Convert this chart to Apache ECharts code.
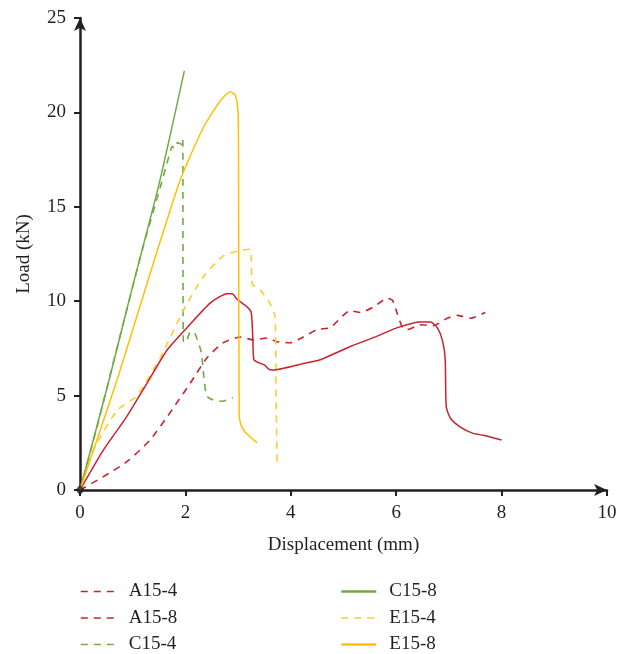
<!DOCTYPE html>
<html>
<head>
<meta charset="utf-8">
<script src="https://cdn.jsdelivr.net/npm/echarts@6/dist/echarts.min.js"></script>
<style>
  html, body { margin: 0; padding: 0; background: #fff; }
  #chart { width: 628px; height: 654px; }
</style>
</head>
<body>
<div id="chart"></div>
<script>
// Load–displacement curves, [displacement (mm), load (kN)]
const seriesNames = ['A15-4', 'A15-8', 'C15-4', 'C15-8', 'E15-4', 'E15-8'];

const a15_4 = [
  [0, 0], [0.44, 0.7], [0.89, 1.5], [1.33, 2.65], [1.71, 4.1], [2.09, 5.65],
  [2.41, 7.0], [2.72, 7.8], [3.04, 8.1], [3.29, 7.95], [3.55, 8.05], [3.74, 7.85],
  [3.99, 7.8], [4.24, 8.1], [4.5, 8.5], [4.75, 8.6], [5.13, 9.5], [5.32, 9.4],
  [5.57, 9.7], [5.83, 10.15], [5.93, 10.05], [6.02, 9.35], [6.12, 8.6], [6.21, 8.5],
  [6.46, 8.75], [6.7, 8.7], [6.97, 9.1], [7.16, 9.25], [7.41, 9.1], [7.69, 9.4]
];

const a15_8 = [
  [0, 0], [0.44, 2.1], [0.89, 3.9], [1.27, 5.65], [1.65, 7.4], [2.03, 8.6],
  [2.47, 9.9], [2.79, 10.4], [2.89, 10.4], [2.98, 10.1], [3.17, 9.7], [3.25, 9.4],
  [3.28, 8.0], [3.3, 6.9], [3.51, 6.6], [3.58, 6.4], [3.65, 6.35], [4.24, 6.7],
  [4.56, 6.9], [5.13, 7.6], [5.64, 8.15], [6.02, 8.6], [6.46, 8.9], [6.65, 8.9],
  [6.78, 8.6], [6.88, 7.9], [6.93, 6.9], [6.95, 4.4], [7.03, 3.8], [7.21, 3.35],
  [7.46, 3.0], [7.65, 2.9], [8.0, 2.65]
];

const c15_4 = [
  [0, 0], [0.3, 3.1], [0.8, 8.6], [1.2, 12.9], [1.52, 16.0], [1.7, 17.8],
  [1.75, 18.2], [1.8, 18.1], [1.85, 18.4], [1.93, 18.3], [1.95, 18.6], [1.96, 7.9],
  [2.0, 7.8], [2.1, 8.4], [2.18, 8.3], [2.3, 7.3], [2.35, 6.0], [2.4, 5.0],
  [2.5, 4.8], [2.7, 4.7], [2.9, 4.9]
];

const c15_8 = [
  [0, 0], [0.55, 5.8], [1.0, 10.8], [1.5, 16.2], [1.98, 22.2]
];

const e15_4 = [
  [0, 0], [0.25, 2.1], [0.7, 4.2], [1.08, 5.0], [1.52, 7.0], [1.96, 9.5],
  [2.34, 11.3], [2.72, 12.4], [2.98, 12.65], [3.23, 12.75], [3.27, 10.9],
  [3.42, 10.6], [3.6, 9.9], [3.7, 9.2], [3.72, 5.0], [3.74, 1.4]
];

const e15_8 = [
  [0, 0], [0.7, 5.8], [1.29, 11.1], [1.9, 16.4], [2.34, 19.2], [2.66, 20.6],
  [2.85, 21.1], [2.95, 20.9], [3.0, 20.0], [3.01, 15.0], [3.02, 4.0], [3.05, 3.5],
  [3.13, 3.07], [3.36, 2.5]
];

const xTicks = [0, 2, 4, 6, 8, 10];
const yTicks = [0, 5, 10, 15, 20, 25];

const RED = '#c8232c';
const GREEN = '#6fab45';
const GOLD = '#ffc000';
const GOLD_LIGHT = '#ffcb2e';
const INK = '#231f20';
const FONT = '"Liberation Serif", "DejaVu Serif", serif';
const FONT_SIZE = 19;

const curves = [
  { name: seriesNames[0], data: a15_4, color: RED, dashed: true },
  { name: seriesNames[1], data: a15_8, color: RED, dashed: false },
  { name: seriesNames[2], data: c15_4, color: GREEN, dashed: true },
  { name: seriesNames[3], data: c15_8, color: GREEN, dashed: false },
  { name: seriesNames[4], data: e15_4, color: GOLD_LIGHT, dashed: true },
  { name: seriesNames[5], data: e15_8, color: GOLD, dashed: false }
];

const series = curves.map(c => ({
  name: c.name,
  type: 'line',
  data: c.data,
  symbol: 'none',
  smooth: 0.2,
  color: c.color,
  lineStyle: {
    color: c.color,
    width: c.dashed ? 1.6 : 1.5,
    type: c.dashed ? [7, 6] : 'solid'
  },
  emphasis: { disabled: true },
  z: c.dashed ? 2 : 3
}));

const legendText = { fontFamily: FONT, fontSize: FONT_SIZE, color: INK, lineHeight: 19, padding: [0, 0, 0, 8] };
const dashedLegend = { type: [7, 6], width: 1.6 };
const solidLegend = { type: 'solid', width: 2.6 };

const legendBase = {
  orient: 'vertical', top: 582, height: 90, padding: 0,
  itemWidth: 35, itemHeight: 14, itemGap: 7.5,
  itemStyle: { opacity: 0 },
  textStyle: legendText, selectedMode: false
};

const axisLabelStyle = { fontFamily: FONT, fontSize: FONT_SIZE, color: INK };

const chart = echarts.init(document.getElementById('chart'), null, { renderer: 'canvas' });
chart.setOption({
  animation: false,
  backgroundColor: '#ffffff',
  grid: { left: 80, right: 21, top: 18, bottom: 164, containLabel: false },
  legend: [
    {
      ...legendBase, left: 80,
      data: [
        { name: 'A15-4', lineStyle: dashedLegend },
        { name: 'A15-8', lineStyle: dashedLegend },
        { name: 'C15-4', lineStyle: dashedLegend }
      ]
    },
    {
      ...legendBase, left: 340,
      data: [
        { name: 'C15-8', lineStyle: solidLegend },
        { name: 'E15-4', lineStyle: dashedLegend },
        { name: 'E15-8', lineStyle: solidLegend }
      ]
    }
  ],
  xAxis: {
    type: 'value',
    min: xTicks[0], max: xTicks[xTicks.length - 1], interval: 2,
    name: 'Displacement (mm)', nameLocation: 'middle', nameGap: 46,
    nameTextStyle: axisLabelStyle,
    axisLine: { show: true, onZero: false, lineStyle: { color: INK, width: 2.5 },
      symbol: ['none', 'arrow'], symbolSize: [9, 13] },
    axisTick: { show: true, inside: false, length: 6, lineStyle: { color: INK, width: 2 } },
    axisLabel: { ...axisLabelStyle, margin: 14, formatter: v => xTicks.includes(v) ? String(v) : '' },
    splitLine: { show: false }
  },
  yAxis: {
    type: 'value',
    min: yTicks[0], max: yTicks[yTicks.length - 1], interval: 5,
    name: 'Load (kN)', nameLocation: 'middle', nameGap: 46, nameRotate: 90,
    nameTextStyle: axisLabelStyle,
    axisLine: { show: true, onZero: false, lineStyle: { color: INK, width: 2.5 },
      symbol: ['none', 'arrow'], symbolSize: [9, 13] },
    axisTick: { show: true, inside: false, length: 6, lineStyle: { color: INK, width: 2 } },
    axisLabel: { ...axisLabelStyle, margin: 14, formatter: v => yTicks.includes(v) ? String(v) : '' },
    splitLine: { show: false }
  },
  series: series.concat([{
    // small origin marker where the axes meet
    type: 'scatter',
    data: [[0, 0]],
    symbol: 'diamond',
    symbolSize: [9, 11],
    itemStyle: { color: INK },
    silent: true,
    z: 5
  }])
});
</script>
</body>
</html>
